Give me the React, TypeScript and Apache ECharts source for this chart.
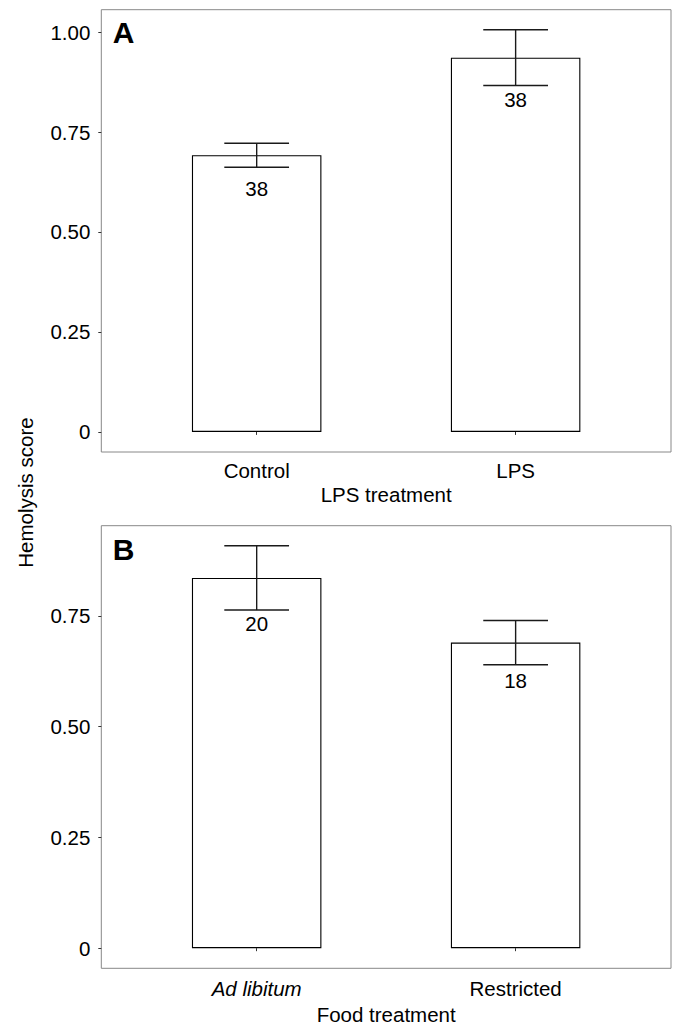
import React, { useEffect, useRef } from "react";
import * as echarts from "echarts";

const categoriesA = ["Control", "LPS"];
const meansA = [0.692, 0.936];
const seA = [0.03, 0.0697];
const nA = [38, 38];
const nLabelYA = [0.609, 0.8325];

const categoriesB = ["Ad libitum", "Restricted"];
const meansB = [0.8355, 0.6896];
const seB = [0.0725, 0.05];
const nB = [20, 18];
const nLabelYB = [0.733, 0.605];

const yTicks = [0, 0.25, 0.5, 0.75, 1.0];
const xPositions = [1, 2];

const FONT = "'Liberation Sans', Arial, Helvetica, sans-serif";
const FS = 20.5;
const X_MIN = 0.4;
const X_MAX = 2.6;
const GRID_LEFT = 101.3;
const GRID_W = 569.7;
const BAR_W = (0.5 * GRID_W) / (X_MAX - X_MIN);

function yRange(means: number[], se: number[]) {
  const M = Math.max(...means.map((m, i) => m + se[i]));
  return { min: -0.05 * M, max: 1.05 * M };
}

export default function App() {
  const ref = useRef<HTMLDivElement>(null);
  useEffect(() => {
    if (!ref.current) return;
    const chart = echarts.init(ref.current, null, { renderer: "svg" });
    const rA = yRange(meansA, seA);
    const rB = yRange(meansB, seB);

    const makeX = (idx: number, cats: string[], nameGap: number, name: string, labelMargin: number) => ({
      type: "value",
      gridIndex: idx,
      min: X_MIN,
      max: X_MAX,
      name,
      nameLocation: "middle",
      nameGap,
      nameTextStyle: { fontFamily: FONT, fontSize: FS, color: "#000" },
      axisLine: { show: false },
      splitLine: { show: false },
      axisTick: {
        show: true,
        customValues: xPositions,
        length: 3,
        lineStyle: { color: "#333", width: 1 },
      },
      axisLabel: {
        show: true,
        customValues: xPositions,
        margin: labelMargin,
        fontFamily: FONT,
        fontSize: FS,
        color: "#000",
        formatter: (v: number) => {
          const c = cats[Math.round(v) - 1] ?? "";
          return c === "Ad libitum" ? "{i|" + c + "}" : c;
        },
        rich: { i: { fontStyle: "italic", fontFamily: FONT, fontSize: FS, color: "#000" } },
      },
    });

    const makeY = (idx: number, r: { min: number; max: number }) => ({
      type: "value",
      gridIndex: idx,
      min: r.min,
      max: r.max,
      axisLine: { show: false },
      splitLine: { show: false },
      axisTick: {
        show: true,
        customValues: yTicks.filter((t) => t <= r.max),
        length: 3,
        lineStyle: { color: "#333", width: 1 },
      },
      axisLabel: {
        show: true,
        customValues: yTicks.filter((t) => t <= r.max),
        margin: 11,
        fontFamily: FONT,
        fontSize: FS,
        color: "#000",
        formatter: (v: number) => (v === 0 ? "0" : v.toFixed(2)),
      },
    });

    const barSeries = (idx: number, means: number[]) => ({
      type: "bar",
      xAxisIndex: idx,
      yAxisIndex: idx,
      barWidth: BAR_W,
      z: 2,
      data: means.map((m, i) => [xPositions[i], m]),
      itemStyle: { color: "#fff", borderColor: "#000", borderWidth: 1.1 },
      silent: true,
    });

    const errSeries = (idx: number, means: number[], se: number[], n: number[], ly: number[]) => ({
      type: "custom",
      xAxisIndex: idx,
      yAxisIndex: idx,
      z: 5,
      encode: { x: 0, y: [1, 2] },
      data: means.map((m, i) => [xPositions[i], m - se[i], m + se[i], ly[i], n[i]]),
      clip: false,
      renderItem: (params: any, api: any) => {
        const x = api.value(0);
        const lo = api.coord([x, api.value(1)]);
        const hi = api.coord([x, api.value(2)]);
        const lab = api.coord([x, api.value(3)]);
        const half = api.size([0.125, 0])[0];
        const st = { stroke: "#1a1a1a", lineWidth: 1.4 };
        return {
          type: "group",
          children: [
            { type: "line", shape: { x1: lo[0], y1: lo[1], x2: hi[0], y2: hi[1] }, style: st },
            { type: "line", shape: { x1: hi[0] - half, y1: hi[1], x2: hi[0] + half, y2: hi[1] }, style: st },
            { type: "line", shape: { x1: lo[0] - half, y1: lo[1], x2: lo[0] + half, y2: lo[1] }, style: st },
            {
              type: "text",
              x: lab[0],
              y: lab[1],
              style: {
                text: String(api.value(4)),
                fontFamily: FONT,
                fontSize: FS,
                fill: "#000",
                align: "center",
                verticalAlign: "middle",
              },
            },
          ],
        };
      },
    });

    chart.setOption({
      animation: false,
      backgroundColor: "#fff",
      grid: [
        { left: GRID_LEFT, top: 9.7, width: GRID_W, height: 442.3, show: true, borderColor: "#888", borderWidth: 1, backgroundColor: "transparent" },
        { left: GRID_LEFT, top: 525.7, width: GRID_W, height: 442.6, show: true, borderColor: "#888", borderWidth: 1, backgroundColor: "transparent" },
      ],
      xAxis: [makeX(0, categoriesA, 32, "LPS treatment", 8), makeX(1, categoriesB, 36, "Food treatment", 10)],
      yAxis: [makeY(0, rA), makeY(1, rB)],
      series: [
        barSeries(0, meansA),
        errSeries(0, meansA, seA, nA, nLabelYA),
        barSeries(1, meansB),
        errSeries(1, meansB, seB, nB, nLabelYB),
      ],
      graphic: [
        {
          type: "text",
          left: 112.7,
          top: 17,
          style: { text: "A", fontFamily: FONT, fontSize: 30, fontWeight: "bold", fill: "#000" },
        },
        {
          type: "text",
          left: 112.7,
          top: 534.5,
          style: { text: "B", fontFamily: FONT, fontSize: 30, fontWeight: "bold", fill: "#000" },
        },
        {
          type: "text",
          x: 25,
          y: 492.5,
          rotation: Math.PI / 2,
          style: {
            text: "Hemolysis score",
            fontFamily: FONT,
            fontSize: FS,
            fill: "#000",
            align: "center",
            verticalAlign: "middle",
          },
        },
      ],
    });
    return () => chart.dispose();
  }, []);
  return (
    <div
      ref={ref}
      style={{ position: "fixed", left: 0, top: 0, width: 675, height: 1027, background: "#fff" }}
    />
  );
}
